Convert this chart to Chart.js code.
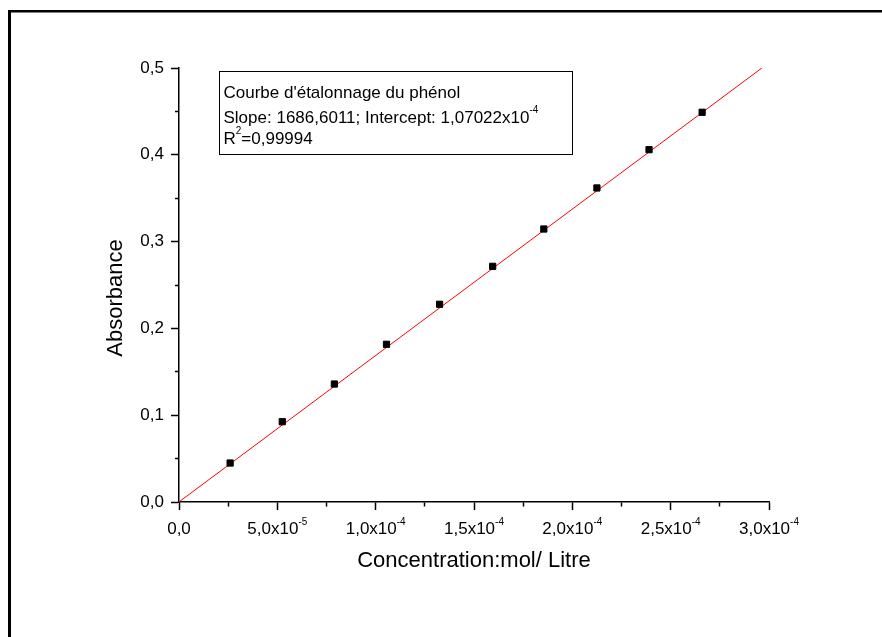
<!DOCTYPE html>
<html>
<head>
<meta charset="utf-8">
<title>Courbe d'étalonnage du phénol</title>
<script src="https://cdn.jsdelivr.net/npm/chart.js@4.4.1/dist/chart.umd.min.js"></script>
<style>
  html, body { margin: 0; padding: 0; background: #fff; overflow: hidden; }
  #wrap { position: relative; width: 882px; height: 637px; }
</style>
</head>
<body>
<div id="wrap"><canvas id="chart-calib"></canvas></div>
<script>
/* ── Measured points (mol/L vs absorbance) ───────────────── */
const concentration = [2.6e-5, 5.25e-5, 7.9e-5, 1.055e-4, 1.325e-4, 1.595e-4, 1.855e-4, 2.125e-4, 2.39e-4, 2.66e-4];
const absorbance    = [0.0449, 0.0925, 0.1359, 0.1817, 0.2278, 0.2715, 0.3145, 0.3618, 0.4059, 0.449];

/* ── Linear fit ──────────────────────────────────────────── */
const fitSlope     = 1686.6011;
const fitIntercept = 1.07022e-4;

/* ── Axis ranges & tick labels ───────────────────────────── */
const xRange       = [0, 3e-4];
const yRange       = [0, 0.5];
const yTickLabels  = ['0,0', '0,1', '0,2', '0,3', '0,4', '0,5'];
const xTickValues  = [0, 5e-5, 1e-4, 1.5e-4, 2e-4, 2.5e-4, 3e-4];
const xTickBase    = ['0,0', '5,0x10', '1,0x10', '1,5x10', '2,0x10', '2,5x10', '3,0x10'];
const xTickExp     = ['', '-5', '-4', '-4', '-4', '-4', '-4'];

/* ── Text ────────────────────────────────────────────────── */
const xTitle   = 'Concentration:mol/ Litre';
const yTitle   = 'Absorbance';
const boxLines = [
  [{ t: "Courbe d'étalonnage du phénol" }],
  [{ t: 'Slope: 1686,6011; Intercept: 1,07022x10' }, { t: '-4', sup: true }],
  [{ t: 'R' }, { t: '2', sup: true }, { t: '=0,99994' }]
];

const FONT = "'Liberation Sans', Arial, sans-serif";

/* fit line runs from x=0 up to where it meets the top of the y axis */
const fitEndX = (yRange[1] - fitIntercept) / fitSlope;
const fitLine = [
  { x: 0,       y: fitIntercept },
  { x: fitEndX, y: fitIntercept + fitSlope * fitEndX }
];

/* draw a run of text pieces, some of them raised as superscripts */
function drawRich(ctx, x, y, parts, size, align) {
  const supSize = Math.round(size * 0.6);
  const widths = parts.map(p => {
    ctx.font = `${p.sup ? supSize : size}px ${FONT}`;
    return ctx.measureText(p.t).width;
  });
  const total = widths.reduce((a, b) => a + b, 0);
  let cx = align === 'center' ? x - total / 2 : x;
  ctx.textAlign = 'left';
  ctx.textBaseline = 'alphabetic';
  parts.forEach((p, i) => {
    ctx.font = `${p.sup ? supSize : size}px ${FONT}`;
    ctx.fillText(p.t, cx, p.sup ? y - size * 0.55 : y);
    cx += widths[i];
  });
}

/* frame, y title, x tick labels with exponents and the fit info box */
const decorPlugin = {
  id: 'decor',
  beforeDraw(chart) {
    const ctx = chart.ctx;
    ctx.save();
    ctx.fillStyle = '#000';
    ctx.fillRect(8, 10, 3, chart.height - 10);
    ctx.fillRect(8, 10, chart.width - 8, 2.5);
    ctx.restore();
  },
  afterDraw(chart) {
    const ctx = chart.ctx;
    const xs = chart.scales.x;
    const area = chart.chartArea;
    ctx.save();
    ctx.fillStyle = '#000';

    xTickValues.forEach((v, i) => {
      const parts = [{ t: xTickBase[i] }];
      if (xTickExp[i]) parts.push({ t: xTickExp[i], sup: true });
      drawRich(ctx, xs.getPixelForValue(v), area.bottom + 32, parts, 17, 'center');
    });

    ctx.save();
    ctx.translate(116, 298);
    ctx.rotate(-Math.PI / 2);
    ctx.font = `22px ${FONT}`;
    ctx.textAlign = 'center';
    ctx.textBaseline = 'middle';
    ctx.fillText(yTitle, 0, 0);
    ctx.restore();

    const bx = area.left + 40.5, by = area.top + 3.5;
    ctx.strokeStyle = '#000';
    ctx.lineWidth = 1;
    ctx.strokeRect(bx, by, 353, 83);
    const baselines = [26, 51, 72];
    boxLines.forEach((line, i) => drawRich(ctx, bx + 4, by + baselines[i], line, 17, 'left'));
    ctx.restore();
  }
};

const minorDash   = c => (c.index % 2 ? [4, 4] : []);

new Chart(document.getElementById('chart-calib'), {
  type: 'scatter',
  data: {
    datasets: [
      {
        label: 'Absorbance',
        data: concentration.map((c, i) => ({ x: c, y: absorbance[i] })),
        pointStyle: 'rect',
        pointRadius: 4.4,
        backgroundColor: '#000',
        borderColor: '#000',
        borderWidth: 1,
        order: 0
      },
      {
        label: 'Linear fit',
        data: fitLine,
        showLine: true,
        borderColor: '#ff0000',
        borderWidth: 1,
        pointRadius: 0,
        order: 1
      }
    ]
  },
  options: {
    responsive: true, maintainAspectRatio: false,
    animation: false,
    events: [],
    layout: { padding: { left: 0, right: 113, top: 68, bottom: 0 } },
    plugins: { legend: { display: false }, tooltip: { enabled: false } },
    scales: {
      x: {
        type: 'linear',
        min: xRange[0], max: xRange[1],
        afterFit: s => { s.height = 135; },
        border: { display: true, color: '#000', width: 1.5 },
        grid: {
          drawOnChartArea: false, drawTicks: true,
          tickLength: 8, tickColor: '#000', tickWidth: 1.5,
          tickBorderDash: minorDash,
          tickBorderDashOffset: 0
        },
        ticks: { stepSize: 2.5e-5, autoSkip: false, callback: () => '' },
        title: {
          display: true, text: xTitle, color: '#000',
          font: { family: FONT, size: 22 },
          padding: { top: 0, bottom: 63 }
        }
      },
      y: {
        type: 'linear',
        min: yRange[0], max: yRange[1],
        afterFit: s => { s.width = 179; },
        border: { display: true, color: '#000', width: 1.5 },
        grid: {
          drawOnChartArea: false, drawTicks: true,
          tickLength: 8, tickColor: '#000', tickWidth: 1.5,
          tickBorderDash: minorDash,
          tickBorderDashOffset: c => (c.index % 2 ? 4 : 0)
        },
        ticks: {
          stepSize: 0.05, autoSkip: false, padding: 7, color: '#000',
          font: { family: FONT, size: 17 },
          callback: (v, i) => (i % 2 ? '' : yTickLabels[i / 2])
        }
      }
    }
  },
  plugins: [decorPlugin]
});
</script>
</body>
</html>
